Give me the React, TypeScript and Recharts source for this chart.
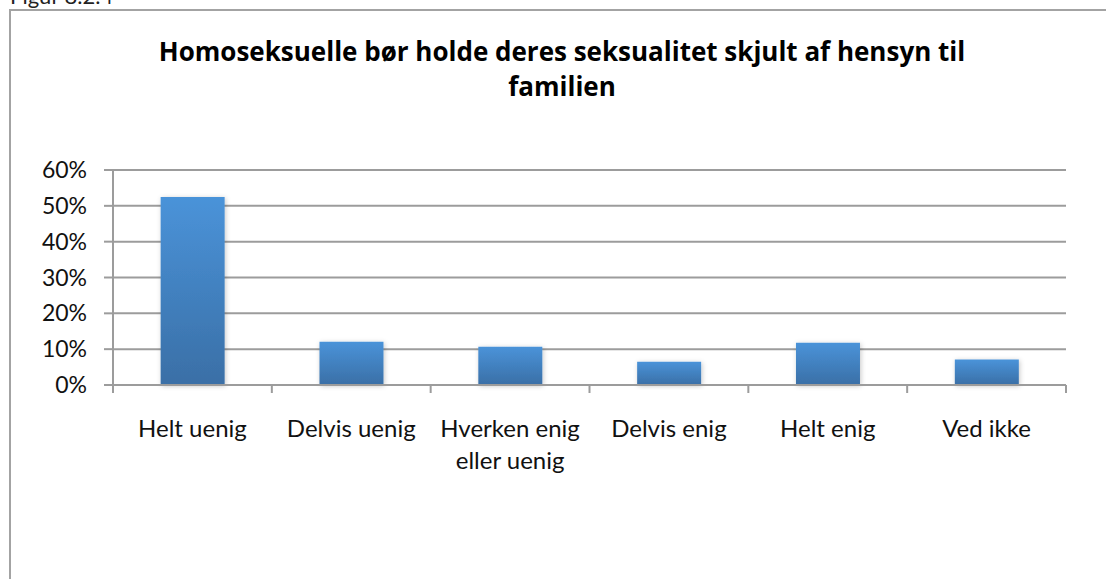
import { Bar, BarChart, CartesianGrid, XAxis, YAxis } from "recharts";

const categories = ["Helt uenig", "Delvis uenig", "Hverken enig eller uenig", "Delvis enig", "Helt enig", "Ved ikke"];
const shares = [0.525, 0.121, 0.107, 0.065, 0.118, 0.071];
const yTicks = [0, 0.1, 0.2, 0.3, 0.4, 0.5, 0.6];

const title = ["Homoseksuelle bør holde deres seksualitet skjult af hensyn til", "familien"];
const caption = "Figur 8.2.4";

const data = categories.map((name, i) => ({ name, value: shares[i] }));

const FONT = "Lato, 'Open Sans', sans-serif";
const TITLE_FONT = "'Open Sans', Lato, sans-serif";
const GREY = "#9c9c9c";

const wrap = (label: string, max = 13) => {
  const lines: string[] = [];
  let cur = "";
  label.split(" ").forEach((w) => {
    const next = cur ? cur + " " + w : w;
    if (next.length > max && cur) {
      lines.push(cur);
      cur = w;
    } else cur = next;
  });
  if (cur) lines.push(cur);
  return lines;
};

const CategoryTick = (props: any) => {
  const { x, y, payload, index } = props;
  const half = payload?.offset ?? 0;
  const last = index === categories.length - 1;
  return (
    <g>
      <line x1={x - half} x2={x - half} y1={y} y2={y + 8} stroke={GREY} strokeWidth={2} />
      {last && <line x1={x + half} x2={x + half} y1={y} y2={y + 8} stroke={GREY} strokeWidth={2} />}
      <text x={x} y={y + 52} textAnchor="middle" fontFamily={FONT} fontSize={24} fill="#111">
        {wrap(String(payload.value)).map((l, i) => (
          <tspan key={i} x={x} dy={i === 0 ? 0 : 32}>
            {l}
          </tspan>
        ))}
      </text>
    </g>
  );
};

export default function App() {
  return (
    <div style={{ position: "fixed", left: 0, top: 0, width: 1106, height: 579, overflow: "hidden", background: "#fff" }}>
      <div style={{ position: "absolute", left: 10, top: -18, fontFamily: FONT, fontSize: 22, color: "#222" }}>
        {caption}
      </div>
      <div
        style={{
          position: "absolute",
          left: 9,
          top: 9,
          width: 1130,
          height: 620,
          border: "2px solid #a3a3a3",
          boxSizing: "border-box",
        }}
      />
      <div
        style={{
          position: "absolute",
          left: 0,
          top: 34,
          width: 1124,
          textAlign: "center",
          fontFamily: TITLE_FONT,
          fontWeight: 700,
          fontSize: 26,
          lineHeight: "35px",
          color: "#000",
        }}
      >
        {title.map((t) => (
          <div key={t}>{t}</div>
        ))}
      </div>
      <div style={{ position: "absolute", left: 0, top: 0 }}>
        <BarChart width={1106} height={579} data={data} margin={{ top: 170, right: 40, bottom: 134, left: 0 }} barCategoryGap="30%">
          <defs>
            <linearGradient id="barFill" x1="0" y1="0" x2="0" y2="1">
              <stop offset="0%" stopColor="#4a93d9" />
              <stop offset="100%" stopColor="#3a6fa6" />
            </linearGradient>
            <filter id="barShadow" x="-20%" y="-20%" width="140%" height="140%">
              <feDropShadow dx="1" dy="1" stdDeviation="2.5" floodColor="#000" floodOpacity="0.22" />
            </filter>
          </defs>
          <CartesianGrid vertical={false} stroke={GREY} strokeWidth={2} />
          <XAxis
            dataKey="name"
            height={60}
            interval={0}
            tickSize={0}
            tickMargin={0}
            tickLine={false}
            axisLine={{ stroke: GREY, strokeWidth: 2 }}
            tick={<CategoryTick />}
          />
          <YAxis
            width={113}
            domain={[0, 0.6]}
            ticks={yTicks}
            interval={0}
            tickSize={9}
            tickMargin={17}
            tickFormatter={(v: number) => `${Math.round(v * 100)}%`}
            tick={{ fontFamily: FONT, fontSize: 23, fill: "#111" }}
            tickLine={{ stroke: GREY, strokeWidth: 2 }}
            axisLine={{ stroke: GREY, strokeWidth: 2 }}
          />
          <Bar dataKey="value" fill="url(#barFill)" filter="url(#barShadow)" isAnimationActive={false} />
        </BarChart>
      </div>
    </div>
  );
}
